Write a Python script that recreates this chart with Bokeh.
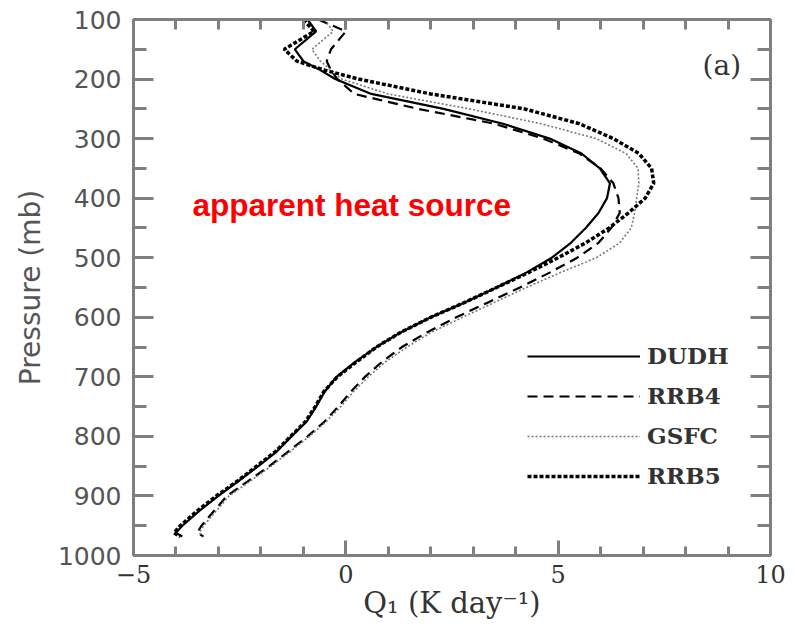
from bokeh.plotting import figure
from bokeh.models import Range1d, LinearAxis, FixedTicker, Label, CustomJSTickFormatter
from bokeh.embed import file_html
from bokeh.resources import INLINE

# ---- data ----
pressure = [100, 120, 150, 170, 185, 200, 225, 250, 275, 300,
            325, 350, 375, 400, 425, 450, 475, 500, 525, 550,
            575, 600, 625, 650, 675, 700, 725, 750, 775, 800,
            825, 850, 875, 900, 925, 950, 962, 968]

DUDH = [-0.9, -0.7, -1.2, -1.0, -0.6, -0.25, 0.6, 2.3, 3.7, 4.8,
        5.55, 5.98, 6.22, 6.15, 5.95, 5.65, 5.3, 4.85, 4.25, 3.55,
        2.8, 2.0, 1.3, 0.72, 0.22, -0.22, -0.5, -0.7, -0.92, -1.28,
        -1.62, -2.06, -2.53, -3.0, -3.45, -3.85, -4.0, -3.85]

RRB4 = [-0.65, 0.0, -0.35, -0.45, -0.35, -0.2, 0.2, 1.7, 3.5, 4.65,
        5.5, 6.0, 6.3, 6.42, 6.45, 6.25, 5.95, 5.45, 4.8, 4.1,
        3.35, 2.6, 1.92, 1.32, 0.85, 0.45, 0.12, -0.18, -0.5, -0.9,
        -1.35, -1.8, -2.3, -2.8, -3.1, -3.4, -3.5, -3.35]

GSFC = [-0.5, -0.3, -0.8, -0.6, -0.35, -0.1, 1.0, 2.9, 4.6, 5.9,
        6.6, 6.88, 6.9, 6.85, 6.8, 6.72, 6.45, 5.9, 5.05, 4.25,
        3.5, 2.75, 2.02, 1.44, 0.93, 0.53, 0.18, -0.12, -0.46, -0.86,
        -1.3, -1.76, -2.25, -2.75, -3.05, -3.35, -3.45, -3.35]

RRB5 = [-1.0, -0.75, -1.45, -1.15, -0.5, 0.3, 2.0, 4.2, 5.5, 6.3,
        6.9, 7.2, 7.25, 7.05, 6.65, 6.2, 5.65, 5.0, 4.3, 3.55,
        2.8, 2.0, 1.3, 0.72, 0.25, -0.2, -0.52, -0.72, -0.95, -1.3,
        -1.65, -2.1, -2.55, -3.05, -3.5, -3.9, -4.05, -3.9]

x_ticks = [-5, 0, 5, 10]
x_tick_labels = {-5: "\u22125", 0: "0", 5: "5", 10: "10"}
y_ticks = [100, 200, 300, 400, 500, 600, 700, 800, 900, 1000]

AX = "#7f7f7f"

p = figure(width=795, height=628, x_range=Range1d(-5, 10), y_range=Range1d(1000, 100),
           output_backend="svg", toolbar_location=None,
           x_axis_location=None, y_axis_location=None,
           min_border_left=133, min_border_right=25, min_border_top=19, min_border_bottom=73)
p.xgrid.visible = False
p.ygrid.visible = False
p.outline_line_color = None
p.background_fill_color = "white"
p.border_fill_color = "white"

def style_axis(ax, major_in, minor_in):
    ax.axis_line_color = AX
    ax.axis_line_width = 3
    ax.major_tick_line_color = AX
    ax.minor_tick_line_color = AX
    ax.major_tick_line_width = 3
    ax.minor_tick_line_width = 3
    ax.major_tick_in = major_in
    ax.major_tick_out = 0
    ax.minor_tick_in = minor_in
    ax.minor_tick_out = 0

xticker = FixedTicker(ticks=x_ticks, minor_ticks=list(range(-5, 11)))
yticker = FixedTicker(ticks=y_ticks, minor_ticks=list(range(100, 1001, 50)))
blank = CustomJSTickFormatter(code="return ''")

xb = LinearAxis(ticker=xticker, axis_label="Q\u2081 (K day\u207b\u00b9)")
style_axis(xb, 15, 9)
xb.major_label_overrides = x_tick_labels
xb.major_label_text_font = "DejaVu Serif"
xb.major_label_text_font_size = "24px"
xb.major_label_text_color = "#333333"
xb.major_label_standoff = 9
xb.axis_label_text_font = "DejaVu Serif"
xb.axis_label_text_font_size = "29px"
xb.axis_label_text_font_style = "normal"
xb.axis_label_text_color = "#333333"
xb.axis_label_standoff = 0
p.add_layout(xb, "below")

xt = LinearAxis(ticker=xticker, formatter=blank)
style_axis(xt, 10, 10)
xt.major_label_standoff = 0
xt.major_label_text_font_size = "1px"
p.add_layout(xt, "above")

yl = LinearAxis(ticker=yticker, axis_label="Pressure (mb)")
style_axis(yl, 20, 13)
yl.major_label_text_font = "DejaVu Sans"
yl.major_label_text_font_size = "25px"
yl.major_label_text_color = "#555555"
yl.major_label_standoff = 12
yl.axis_label_text_font = "DejaVu Sans"
yl.axis_label_text_font_size = "28px"
yl.axis_label_text_font_style = "normal"
yl.axis_label_text_color = "#555555"
yl.axis_label_standoff = 8
p.add_layout(yl, "left")

yr = LinearAxis(ticker=yticker, formatter=blank)
style_axis(yr, 20, 13)
yr.major_label_standoff = 0
yr.major_label_text_font_size = "1px"
p.add_layout(yr, "right")

p.line(DUDH, pressure, line_color="black", line_width=2.2, legend_label="DUDH")
p.line(RRB4, pressure, line_color="black", line_width=2.2, line_dash="10 6", legend_label="RRB4")
p.line(GSFC, pressure, line_color="#777777", line_width=1.6, line_dash="2 2", legend_label="GSFC")
p.line(RRB5, pressure, line_color="black", line_width=3.5, line_dash="4 2", legend_label="RRB5")

lg = p.legend[0]
lg.location = (394, 66)
lg.border_line_color = None
lg.background_fill_alpha = 0
lg.padding = 0
lg.margin = 0
lg.spacing = 13
lg.glyph_width = 113
lg.glyph_height = 20
lg.label_height = 20
lg.label_standoff = 7
lg.label_text_font = "DejaVu Serif"
lg.label_text_font_style = "bold"
lg.label_text_font_size = "23px"
lg.label_text_color = "#333333"

p.add_layout(Label(x=-3.61, y=412, text="apparent heat source", text_color="#ff0000",
                   text_font="Liberation Sans", text_font_style="bold",
                   text_font_size="31.5px", text_baseline="alphabetic"))
p.add_layout(Label(x=8.4, y=177, text="(a)", text_color="#333333",
                   text_font="DejaVu Serif", text_font_size="28px",
                   text_baseline="alphabetic"))

open("out.html", "w").write(file_html(p, INLINE))
